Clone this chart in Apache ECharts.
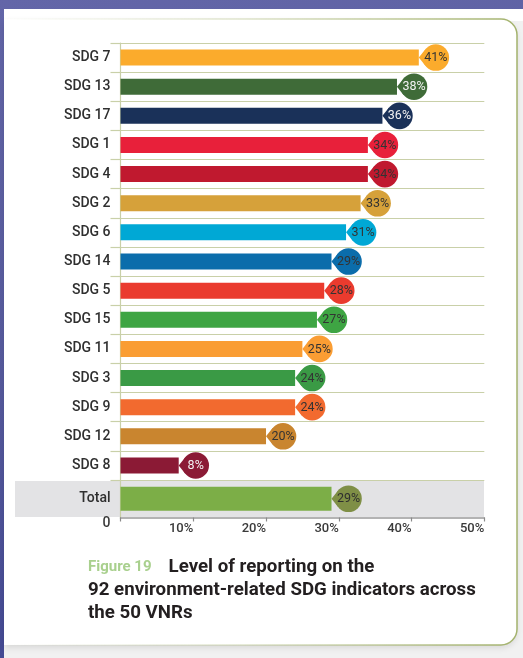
<!DOCTYPE html>
<html>
<head>
<meta charset="utf-8">
<script src="https://cdn.jsdelivr.net/npm/echarts@6/dist/echarts.min.js"></script>
<style>
  html, body { margin: 0; padding: 0; width: 523px; height: 658px; overflow: hidden; }
  body { background: linear-gradient(170deg, #6366a8 0%, #565a9d 50%, #3f4590 100%); position: relative; }
  #card { position: absolute; left: 4px; top: 9px; right: 0; bottom: 0; background: #f1f1f1; }
  #box { position: absolute; left: 4px; top: 19px; width: 513px; height: 626px; background: #fff;
         border-radius: 0 16px 16px 0; box-shadow: 0 3px 6px rgba(0,0,0,0.10); }
  #topwhite { position: absolute; left: 4px; top: 9px; right: 0; height: 12px; background: #fff; }
  #band { position: absolute; left: 15px; top: 481px; width: 469px; height: 36px; background: #e3e3e5; }
  #chart { position: absolute; left: 0; top: 0; width: 523px; height: 658px; }
</style>
</head>
<body>
<div id="card"></div>
<div id="topwhite"></div>
<div id="box"></div>
<div id="band"></div>
<div id="chart"></div>
<script>
const categories = ['SDG 7','SDG 13','SDG 17','SDG 1','SDG 4','SDG 2','SDG 6','SDG 14','SDG 5','SDG 15','SDG 11','SDG 3','SDG 9','SDG 12','SDG 8'];
const values = [41, 38, 36, 34, 34, 33, 31, 29, 28, 27, 25, 24, 24, 20, 8];
const totalCategory = ['Total'];
const totalValue = [29];

const barColors = ['#fbab2c','#3f6b38','#1a3159','#e8203a','#c0192f','#d6a13a','#00a8d5','#0b6dab','#ea3b2e','#3ea543','#fa9d33','#3a9a45','#f26a2f','#c9852f','#8b1a35'];
const bubbleTextColors = ['#333','#f2f2f2','#f2f2f2','#333','#333','#333','#333','#333','#333','#333','#333','#333','#333','#333','#f2f2f2'];
const totalBarColor = '#7cae47';
const totalBubbleColor = '#7f8f46';

const gridLine = '#c9d0a8';
const FONT = 'Roboto, "Noto Sans", sans-serif';

function makeBubble(colorFn, textColorFn) {
  return function (params, api) {
    const v = api.value(0);
    const p = api.coord([v, api.value(1)]);
    const d = 17, r = 13.3;
    const cx = p[0] + d, cy = p[1];
    const a = Math.acos(r / d);
    const tx = cx - r * Math.cos(a), ty = r * Math.sin(a);
    const c = colorFn(params.dataIndex);
    return {
      type: 'group',
      children: [
        { type: 'polygon', shape: { points: [[p[0], cy], [tx, cy - ty], [cx, cy], [tx, cy + ty]] }, style: { fill: c } },
        { type: 'circle', shape: { cx: cx, cy: cy, r: r }, style: { fill: c } },
        { type: 'text', style: { text: v + '%', x: cx, y: cy + 0.5, textAlign: 'center', textVerticalAlign: 'middle',
            fill: textColorFn(params.dataIndex), fontSize: 12.5, fontFamily: FONT } }
      ]
    };
  };
}

const chart = echarts.init(document.getElementById('chart'), null, { renderer: 'canvas' });
chart.setOption({
  backgroundColor: 'transparent',
  animation: false,
  title: {
    left: 88, top: 556, padding: 0,
    text: '{a|Figure 19}{b|Level of reporting on the}\n{b|92 environment-related SDG indicators across}\n{b|the 50 VNRs}',
    textStyle: {
      rich: {
        a: { color: '#a9d08e', fontSize: 15, fontFamily: FONT, padding: [0, 17, 0, 0], lineHeight: 23 },
        b: { color: '#231f20', fontSize: 18.7, fontWeight: 'bold', fontFamily: FONT, lineHeight: 23 }
      }
    }
  },
  graphic: [{
    type: 'rect', z: 0, silent: true,
    shape: { x: 4, y: 19, width: 513, height: 626, r: [0, 16, 16, 0] },
    style: {
      fill: 'none', lineWidth: 1.5,
      stroke: new echarts.graphic.LinearGradient(0, 0, 1, 0, [
        { offset: 0, color: 'rgba(168,182,116,0)' },
        { offset: 0.45, color: 'rgba(168,182,116,0.35)' },
        { offset: 1, color: '#a3b26c' }
      ])
    }
  }],
  grid: [
    { left: 120.5, right: 38.7, top: 43, height: 437 },
    { left: 120.5, right: 38.7, top: 480, height: 37.5 }
  ],
  xAxis: [
    { gridIndex: 0, type: 'value', min: 0, max: 50, interval: 10, show: false },
    { gridIndex: 1, type: 'value', min: 0, max: 50, interval: 10,
      axisLine: { show: true, lineStyle: { color: '#9a9a9a', width: 1.5 } },
      axisTick: { show: true, length: 4, lineStyle: { color: '#8a8a8a', width: 1.2 } },
      splitLine: { show: false },
      axisLabel: { formatter: function (v) { return v === 0 ? '' : v + '%'; }, align: 'right', margin: 5,
        color: '#3a3a3a', fontSize: 13, fontWeight: 500, fontFamily: FONT },
      name: '0', nameLocation: 'start', nameGap: 10,
      nameTextStyle: { color: '#3a3a3a', fontSize: 14, fontWeight: 500, fontFamily: FONT, align: 'right', verticalAlign: 'top', lineHeight: 12 }
    }
  ],
  yAxis: [
    { gridIndex: 0, type: 'category', data: categories, inverse: true,
      axisLine: { show: true, lineStyle: { color: gridLine, width: 1.2 } },
      axisTick: { show: true, length: 10, lineStyle: { color: gridLine, width: 1.2 } },
      splitLine: { show: true, lineStyle: { color: gridLine, width: 1.2 } },
      axisLabel: { margin: 10, color: '#2f2f2f', fontSize: 14, fontWeight: 500, fontFamily: FONT }
    },
    { gridIndex: 1, type: 'category', data: totalCategory,
      axisLine: { show: true, lineStyle: { color: gridLine, width: 1.2 } },
      axisTick: { show: false },
      splitLine: { show: false },
      axisLabel: { margin: 10, color: '#2f2f2f', fontSize: 14, fontWeight: 500, fontFamily: FONT }
    }
  ],
  series: [
    { type: 'bar', xAxisIndex: 0, yAxisIndex: 0, barWidth: 16, z: 3,
      data: values.map(function (v, i) { return { value: v, itemStyle: { color: barColors[i] } }; }) },
    { type: 'custom', xAxisIndex: 0, yAxisIndex: 0, z: 4, encode: { x: 0, y: 1 },
      renderItem: makeBubble(function (i) { return barColors[i]; }, function (i) { return bubbleTextColors[i]; }),
      data: values.map(function (v, i) { return [v, i]; }) },
    { type: 'bar', xAxisIndex: 1, yAxisIndex: 1, barWidth: 24, z: 3,
      data: totalValue.map(function (v) { return { value: v, itemStyle: { color: totalBarColor } }; }) },
    { type: 'custom', xAxisIndex: 1, yAxisIndex: 1, z: 4, encode: { x: 0, y: 1 },
      renderItem: makeBubble(function () { return totalBubbleColor; }, function () { return '#2e2e2e'; }),
      data: totalValue.map(function (v, i) { return [v, i]; }) }
  ]
});
</script>
</body>
</html>
